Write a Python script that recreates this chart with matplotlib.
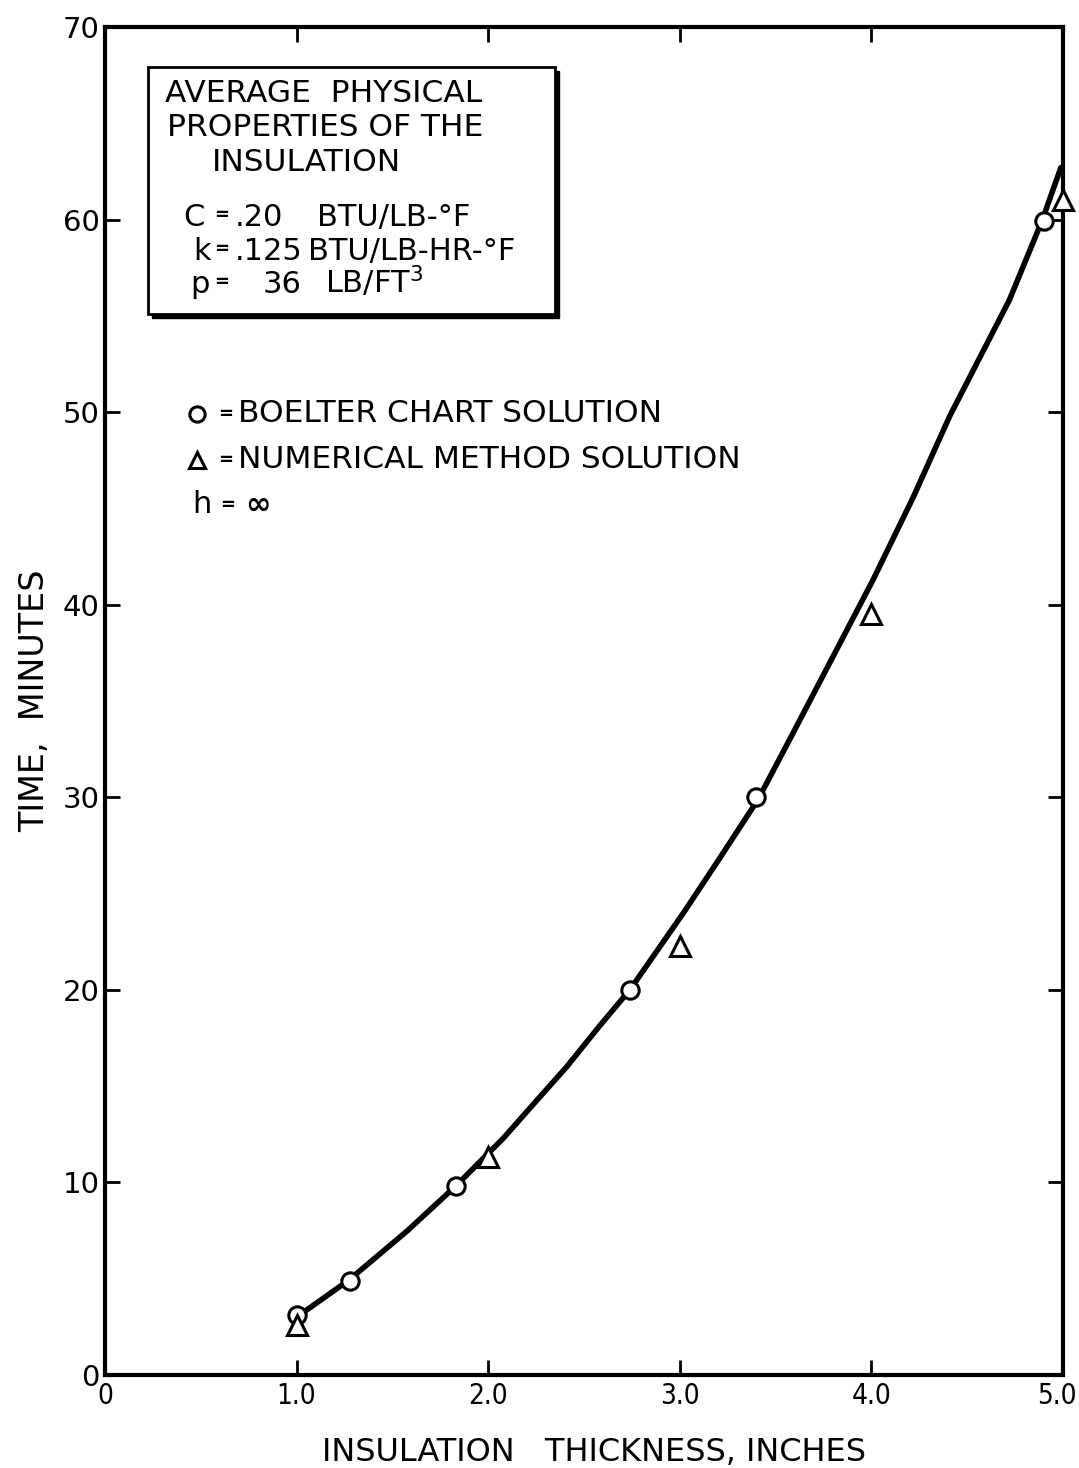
import matplotlib
matplotlib.use("Agg")
import matplotlib.pyplot as plt
import matplotlib.transforms as mtransforms
from matplotlib.patches import Rectangle

# values
curveX = [1.0, 1.27, 1.58, 1.83, 2.08, 2.24, 2.41, 2.58, 2.74, 3.02, 3.20, 3.41,
          3.59, 3.80, 4.01, 4.22, 4.41, 4.57, 4.72, 4.89, 4.99]
curveY = [3.0, 4.9, 7.5, 9.8, 12.3, 14.1, 16.0, 18.1, 20.0, 24.0, 26.7, 29.9,
          33.3, 37.3, 41.3, 45.6, 49.8, 52.9, 55.8, 59.9, 62.7]

boelterX = [1.0, 1.28, 1.83, 2.74, 3.40, 4.90]
boelterY = [3.1, 4.9, 9.8, 20.0, 30.0, 59.9]

numericalX = [1.0, 2.0, 3.0, 4.0, 5.0]
numericalY = [2.6, 11.3, 22.3, 39.5, 61.0]

xTicks = [0, 1, 2, 3, 4, 5]
xTickLabels = ["0", "1.0", "2.0", "3.0", "4.0", "5.0"]
yTicks = [0, 10, 20, 30, 40, 50, 60, 70]

boxLines = ["AVERAGE  PHYSICAL", "PROPERTIES OF THE", "INSULATION"]
propSymbols = ["C", "k", "p"]
propValues = [".20", ".125", "36"]
propUnits = ["BTU/LB-°F", "BTU/LB-HR-°F", "LB/FT$^{3}$"]

legendLabels = ["BOELTER CHART SOLUTION", "NUMERICAL METHOD SOLUTION"]

plt.rcParams['font.family'] = ['DejaVu Sans']

fig = plt.figure(figsize=(10.79, 14.68), dpi=100)
ax = fig.add_axes([0.0973, 0.0634, 0.8877, 0.9182])

ax.plot(curveX, curveY, color='black', lw=4, solid_joinstyle='round', solid_capstyle='round', zorder=2)
ax.plot(boelterX, boelterY, 'o', ms=12.5, mfc='white', mec='black', mew=2.2, zorder=3)
ax.plot(numericalX, numericalY, '^', ms=14, mfc='white', mec='black', mew=2.2, zorder=3, clip_on=False)

ax.set_xlim(0, 5)
ax.set_ylim(0, 70)
ax.set_xticks(xTicks)
ax.set_xticklabels(xTickLabels)
ax.set_yticks(yTicks)
ax.tick_params(direction='in', length=11, width=2, labelsize=21, top=True, right=True, pad=6)
ax.tick_params(axis='y', pad=4)
ax.tick_params(axis='x', labelsize=20, pad=5)
for lbl in ax.get_xticklabels():
    lbl.set_fontstretch('condensed')
# pull the last label in a little so it stays on the page
last = ax.get_xticklabels()[-1]
last.set_transform(last.get_transform() + mtransforms.ScaledTranslation(-6 / 100, 0, fig.dpi_scale_trans))
for s in ax.spines.values():
    s.set_linewidth(3)

ax.set_xlabel("INSULATION   THICKNESS, INCHES", fontsize=23)
ax.xaxis.set_label_coords(0.511, -0.046)
ax.set_ylabel("TIME,  MINUTES", fontsize=24, labelpad=8)

# properties box with a drop shadow
ax.add_patch(Rectangle((0.0489, 0.7841), 0.4248, 0.1832, transform=ax.transAxes,
                       facecolor='black', edgecolor='black', lw=1, zorder=4))
ax.add_patch(Rectangle((0.0449, 0.7871), 0.4248, 0.1832, transform=ax.transAxes,
                       facecolor='white', edgecolor='black', lw=2, zorder=5))
titleX = [0.0626, 0.0647, 0.1117]
for i, t in enumerate(boxLines):
    ax.text(titleX[i], 0.9444 - i * 0.0256, t, transform=ax.transAxes, fontsize=22.5,
            va='baseline', ha='left', zorder=6)
propRowY = [0.8524, 0.8271, 0.8027]
symX = [0.0814, 0.0920, 0.0887]
valX = [0.1357, 0.1357, 0.1649]
unitX = [0.2213, 0.2119, 0.2296]
for i in range(3):
    ax.text(symX[i], propRowY[i], propSymbols[i], transform=ax.transAxes, fontsize=22, va='baseline', zorder=6)
    ax.text(0.1220, propRowY[i] + 0.0082, "=", transform=ax.transAxes, fontsize=13, fontweight='bold',
            ha='center', va='center', zorder=6)
    ax.text(valX[i], propRowY[i], propValues[i], transform=ax.transAxes, fontsize=22, va='baseline', zorder=6)
    ax.text(unitX[i], propRowY[i], propUnits[i], transform=ax.transAxes, fontsize=22, va='baseline', zorder=6)

# legend written on the plot
legendY = [0.7129, 0.6788]
ax.plot([0.096], [legendY[0]], 'o', ms=11, mfc='white', mec='black', mew=2.2, transform=ax.transAxes, clip_on=False)
ax.plot([0.096], [legendY[1]], '^', ms=12, mfc='white', mec='black', mew=2.2, transform=ax.transAxes, clip_on=False)
for i in range(2):
    ax.text(0.1255, legendY[i], "=", transform=ax.transAxes, fontsize=13, fontweight='bold', ha='center', va='center')
    ax.text(0.139, legendY[i], legendLabels[i], transform=ax.transAxes, fontsize=22.5, va='center')
ax.text(0.0908, 0.6454, "h", transform=ax.transAxes, fontsize=22, va='center')
ax.text(0.1285, 0.6454, "=", transform=ax.transAxes, fontsize=13, fontweight='bold', ha='center', va='center')
ax.text(0.146, 0.6454, "∞", transform=ax.transAxes, fontsize=22, va='center', fontweight='bold')

fig.savefig("out.png", dpi=100)
